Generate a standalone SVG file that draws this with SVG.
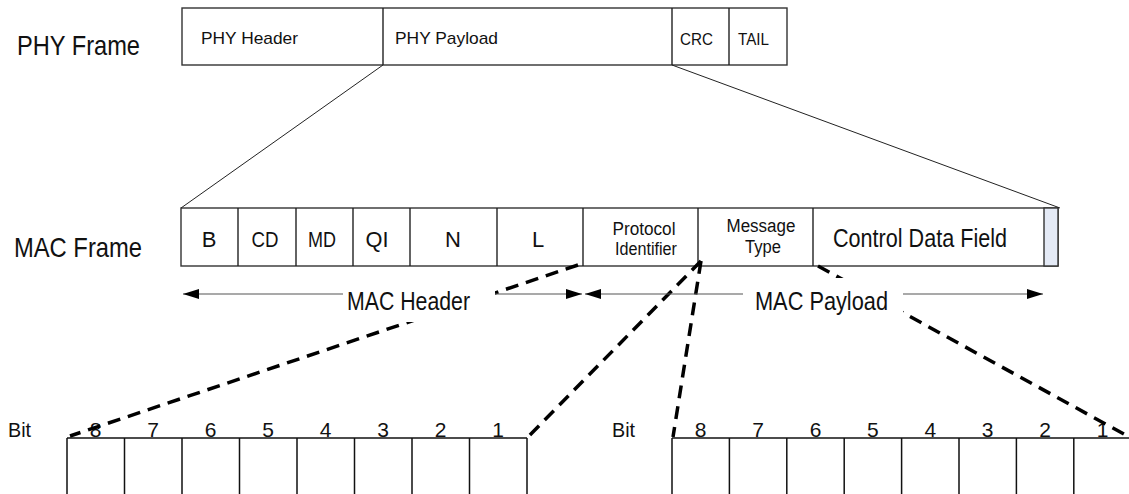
<svg xmlns="http://www.w3.org/2000/svg" width="1129" height="494" viewBox="0 0 1129 494">
<defs>
<style>
.t{font-family:"Liberation Sans Narrow","Arial Narrow","Liberation Sans",Arial,sans-serif;fill:#111}
.a{font-family:"Liberation Sans",Arial,sans-serif;fill:#111}
.box{fill:#fff;stroke:#333;stroke-width:1.4}
.div{stroke:#222;stroke-width:1.4}
.thin{stroke:#222;stroke-width:1;fill:none}
.dash{stroke:#000;stroke-width:3.5;stroke-dasharray:13 8;fill:none}
.arr{stroke:#555;stroke-width:1.2;fill:none}
.cell{stroke:#111;stroke-width:1.5;fill:none}
</style>
<marker id="ah" viewBox="0 0 16 10" refX="16" refY="5" markerWidth="16" markerHeight="10" markerUnits="userSpaceOnUse" orient="auto-start-reverse">
<path d="M0,0 L16,5 L0,10 z" fill="#000"/>
</marker>
</defs>
<rect width="1129" height="494" fill="#fff"/>

<g id="labels-left">
<text class="t" x="17" y="55" font-size="28" textLength="123" lengthAdjust="spacingAndGlyphs">PHY Frame</text>
<text class="t" x="14" y="257" font-size="28" textLength="128" lengthAdjust="spacingAndGlyphs">MAC Frame</text>
</g>

<g id="phy-frame">
<rect class="box" x="182" y="8" width="605" height="57"/>
<line class="div" x1="383" y1="8" x2="383" y2="65"/>
<line class="div" x1="672" y1="8" x2="672" y2="65"/>
<line class="div" x1="729" y1="8" x2="729" y2="65"/>
<text class="a" x="201" y="44" font-size="17" textLength="97" lengthAdjust="spacingAndGlyphs">PHY Header</text>
<text class="a" x="395" y="44" font-size="17" textLength="103" lengthAdjust="spacingAndGlyphs">PHY Payload</text>
<text class="t" x="680" y="45" font-size="17" textLength="33" lengthAdjust="spacingAndGlyphs">CRC</text>
<text class="t" x="738" y="45" font-size="17" textLength="31" lengthAdjust="spacingAndGlyphs">TAIL</text>
</g>

<g id="mac-frame">
<rect class="box" x="181" y="208" width="877" height="58"/>
<rect x="1044" y="208" width="14" height="58" fill="#e4eaf6" stroke="#333" stroke-width="1.4"/>
<line class="div" x1="238" y1="208" x2="238" y2="266"/>
<line class="div" x1="296" y1="208" x2="296" y2="266"/>
<line class="div" x1="353" y1="208" x2="353" y2="266"/>
<line class="div" x1="410" y1="208" x2="410" y2="266"/>
<line class="div" x1="497" y1="208" x2="497" y2="266"/>
<line class="div" x1="583" y1="208" x2="583" y2="266"/>
<line class="div" x1="698" y1="208" x2="698" y2="266"/>
<line class="div" x1="813" y1="208" x2="813" y2="266"/>
<g class="t" font-size="22" text-anchor="middle">
<text x="209" y="247">B</text>
<text x="265" y="247" textLength="27" lengthAdjust="spacingAndGlyphs">CD</text>
<text x="322" y="247" textLength="28" lengthAdjust="spacingAndGlyphs">MD</text>
<text x="377" y="247" textLength="23" lengthAdjust="spacingAndGlyphs">QI</text>
<text x="453" y="247">N</text>
<text x="538" y="247">L</text>
</g>
<g class="t" font-size="18" text-anchor="middle">
<text x="644" y="235" textLength="63" lengthAdjust="spacingAndGlyphs">Protocol</text>
<text x="646" y="255" textLength="62" lengthAdjust="spacingAndGlyphs">Identifier</text>
<text x="761" y="232" textLength="69" lengthAdjust="spacingAndGlyphs">Message</text>
<text x="763" y="253" textLength="36" lengthAdjust="spacingAndGlyphs">Type</text>
</g>
<text class="t" x="920" y="247" font-size="25" text-anchor="middle" textLength="174" lengthAdjust="spacingAndGlyphs">Control Data Field</text>
</g>

<g id="bit-table-left">
<line class="cell" x1="67" y1="438" x2="527" y2="438"/>
<path class="cell" d="M67,438V494M124.5,438V494M182,438V494M239.5,438V494M297,438V494M354.5,438V494M412,438V494M469.5,438V494M527,438V494"/>
<text class="t" x="8" y="437" font-size="21" textLength="23" lengthAdjust="spacingAndGlyphs">Bit</text>
<g class="t" font-size="21" text-anchor="middle">
<text x="95.7" y="437">8</text><text x="153.2" y="437">7</text><text x="210.7" y="437">6</text><text x="268.2" y="437">5</text>
<text x="325.7" y="437">4</text><text x="383.2" y="437">3</text><text x="440.7" y="437">2</text><text x="498.2" y="437">1</text>
</g>
</g>

<g id="bit-table-right">
<line class="cell" x1="672" y1="438" x2="1131" y2="438"/>
<path class="cell" d="M672,438V494M729.4,438V494M786.8,438V494M844.2,438V494M901.6,438V494M959,438V494M1016.4,438V494M1073.8,438V494"/>
<text class="t" x="612" y="437" font-size="21" textLength="23" lengthAdjust="spacingAndGlyphs">Bit</text>
<g class="t" font-size="21" text-anchor="middle">
<text x="700.7" y="437">8</text><text x="758.1" y="437">7</text><text x="815.5" y="437">6</text><text x="872.9" y="437">5</text>
<text x="930.3" y="437">4</text><text x="987.7" y="437">3</text><text x="1045.1" y="437">2</text><text x="1102.5" y="437">1</text>
</g>
</g>

<g id="connectors">
<line class="thin" x1="383" y1="65" x2="181" y2="208"/>
<line class="thin" x1="672" y1="65" x2="1060" y2="208"/>
<line class="dash" x1="578" y1="265" x2="70" y2="436"/>
<line class="dash" x1="701" y1="261" x2="527" y2="438"/>
<line class="dash" x1="701" y1="261" x2="673" y2="437"/>
<line class="dash" x1="818" y1="266" x2="1131" y2="438"/>
</g>

<g id="mac-header-span">
<line class="arr" x1="183" y1="294" x2="582" y2="294" marker-start="url(#ah)" marker-end="url(#ah)"/>
<rect x="343" y="280" width="152" height="42" fill="#fff"/>
<text class="t" x="347" y="310" font-size="26" textLength="123" lengthAdjust="spacingAndGlyphs">MAC Header</text>
</g>

<g id="mac-payload-span">
<line class="arr" x1="585" y1="294" x2="1043" y2="294" marker-start="url(#ah)" marker-end="url(#ah)"/>
<rect x="743" y="278" width="160" height="44" fill="#fff"/>
<text class="t" x="755" y="310" font-size="26" textLength="133" lengthAdjust="spacingAndGlyphs">MAC Payload</text>
</g>
</svg>
